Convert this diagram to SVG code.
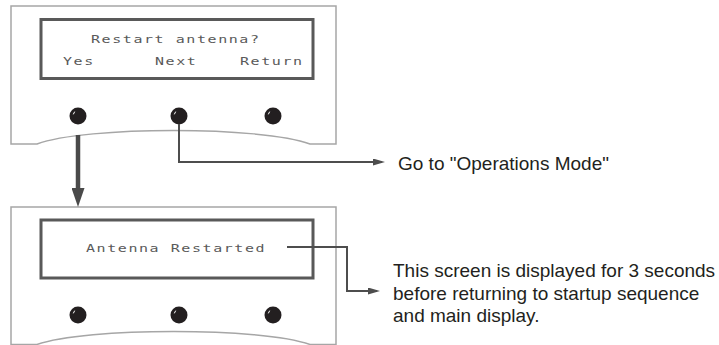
<svg xmlns="http://www.w3.org/2000/svg" width="719" height="345" viewBox="0 0 719 345">
  <style>
    .panel { fill: #ffffff; stroke: #a6a6a6; stroke-width: 1.5; }
    .screen { fill: #ffffff; stroke: #595959; stroke-width: 3; }
    .lcd { font-family: "DejaVu Sans Mono", "Liberation Mono", monospace; font-size: 10px; fill: #5a5a5a; letter-spacing: 1.05px; }
    .btn { fill: #231f20; }
    .hl { fill: none; stroke: #ffffff; stroke-width: 1; stroke-linecap: round; }
    .conn { fill: none; stroke: #4d4d4d; stroke-width: 2; }
    .thick { fill: none; stroke: #4a4a4a; stroke-width: 4.5; }
    .label { font-family: "Liberation Sans", Arial, sans-serif; font-size: 19px; fill: #231f20; }
  </style>
  <defs>
    <marker id="arr" viewBox="0 0 12 7" refX="9" refY="3.5" markerWidth="12" markerHeight="7" markerUnits="userSpaceOnUse" orient="auto">
      <path d="M0,0 L12,3.5 L0,7 Z" fill="#4d4d4d"/>
    </marker>
    <marker id="arrBig" viewBox="0 0 19 13" refX="4" refY="6.5" markerWidth="19" markerHeight="13" markerUnits="userSpaceOnUse" orient="auto">
      <path d="M0,0 L19,6.5 L0,13 Z" fill="#4a4a4a"/>
    </marker>
    <g id="button">
      <circle r="8.5" class="btn"/>
      <path d="M-4.5,-2 L-3.5,-4" class="hl"/>
    </g>
  </defs>

  <g id="panel-restart">
    <path class="panel" d="M11,6 H336 V144 H310 C262,126 85,126 37,144 H11 Z"/>
    <rect class="screen" x="41" y="19.5" width="272" height="59"/>
    <text class="lcd" transform="translate(91,43) scale(1.5,1)">Restart antenna?</text>
    <text class="lcd" transform="translate(63,65) scale(1.5,1)">Yes</text>
    <text class="lcd" transform="translate(155,65) scale(1.5,1)">Next</text>
    <text class="lcd" transform="translate(240,65) scale(1.5,1)">Return</text>
    <use href="#button" x="78" y="116"/>
    <use href="#button" x="179" y="116"/>
    <use href="#button" x="273" y="116"/>
  </g>

  <g id="panel-restarted">
    <path class="panel" d="M11,207 H336 V344.5 H310 C262,327 85,327 37,344.5 H11 Z"/>
    <rect class="screen" x="41" y="220" width="272" height="58"/>
    <text class="lcd" transform="translate(86,252) scale(1.5,1)">Antenna Restarted</text>
    <use href="#button" x="78" y="315"/>
    <use href="#button" x="179" y="315"/>
    <use href="#button" x="273" y="315"/>
  </g>

  <g id="label-operations">
    <text class="label" x="398" y="170">Go to "Operations Mode"</text>
  </g>

  <g id="label-note">
    <text class="label" x="393" y="277">This screen is displayed for 3 seconds</text>
    <text class="label" x="393" y="299.5">before returning to startup sequence</text>
    <text class="label" x="393" y="322">and main display.</text>
  </g>

  <g id="connectors">
    <path class="thick" d="M78,135 V192" marker-end="url(#arrBig)"/>
    <path class="conn" d="M179,124 V162 H382" marker-end="url(#arr)"/>
    <path class="conn" d="M287,247 H347 V291 H377" marker-end="url(#arr)"/>
  </g>
</svg>
